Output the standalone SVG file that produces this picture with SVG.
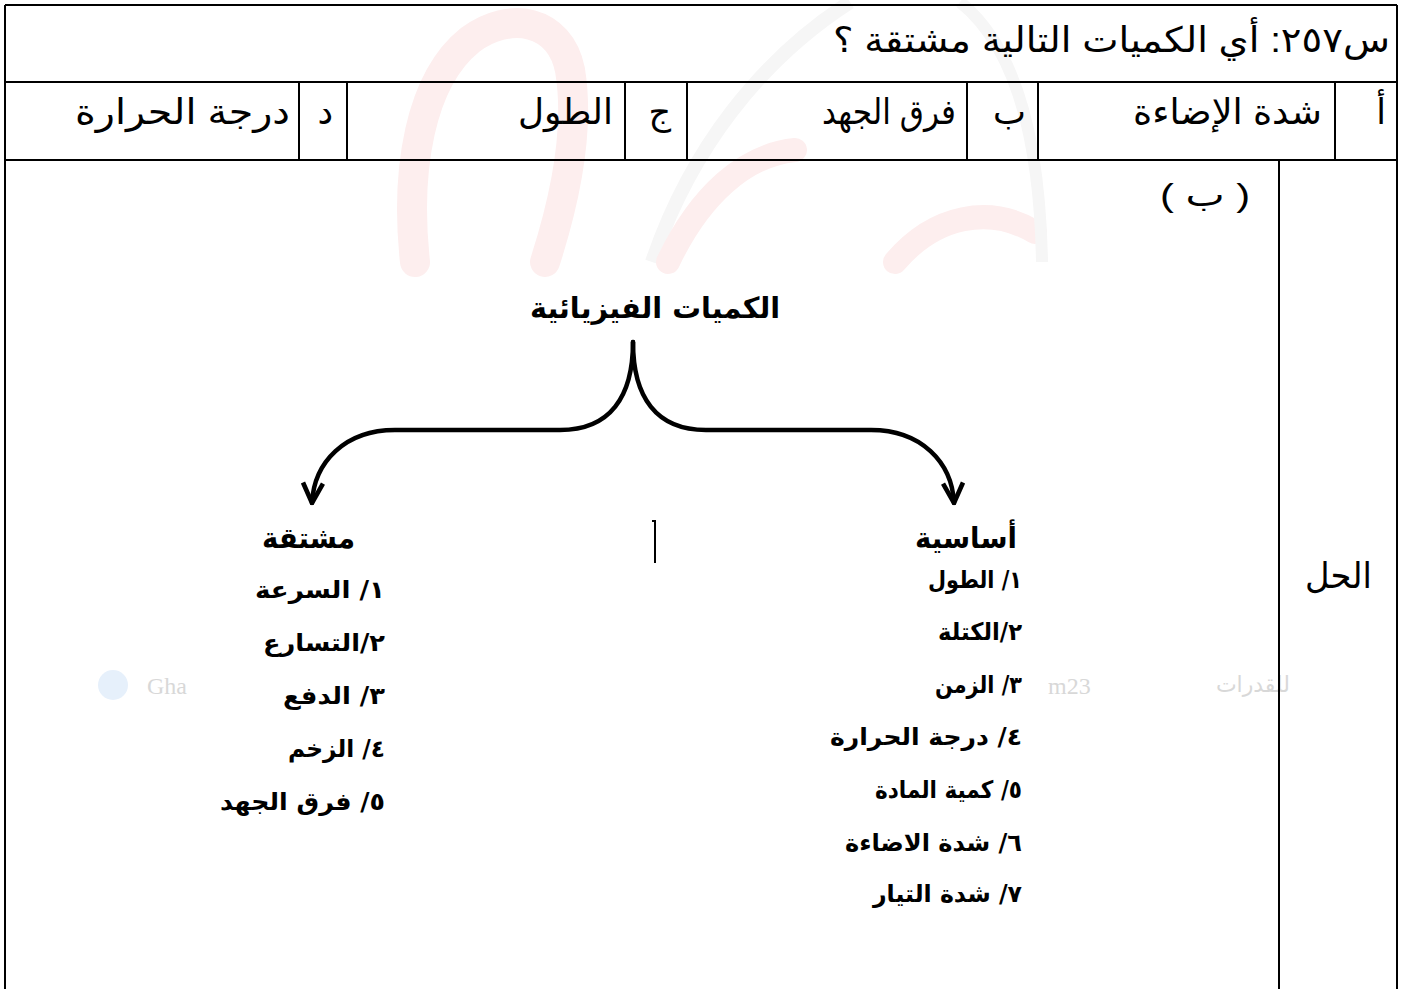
<svg xmlns="http://www.w3.org/2000/svg" width="1408" height="989" viewBox="0 0 1408 989">
<defs>
<style>
.grid{stroke:#000;stroke-width:2;fill:none}
.t{font-family:"Liberation Sans","DejaVu Sans",sans-serif;fill:#000;direction:rtl}
.q{font-size:35px}
.o{font-size:35px}
.b{font-family:"DejaVu Sans",sans-serif;font-weight:bold;fill:#000;direction:rtl}
.h{font-size:29px}
.l{font-size:24px}
.conn{stroke:#000;stroke-width:4.5;fill:none;stroke-linecap:round}
.wm{font-family:"Liberation Serif","DejaVu Serif",serif;fill:#d8d8d8}
.pk{fill:none;stroke:#fdeeee;stroke-linecap:round}
.gy{fill:none;stroke:#f6f6f6}
</style>
<marker id="chev" viewBox="0 0 12 12" refX="11" refY="6" markerWidth="24" markerHeight="24" markerUnits="userSpaceOnUse" orient="auto">
<path d="M1,1 L11,6 L1,11" fill="none" stroke="#000" stroke-width="2.3"/>
</marker>
</defs>
<rect width="1408" height="989" fill="#fff"/>
<g id="watermark">
<path class="pk" stroke-width="30" d="M415,262 C405,170 420,80 470,40 C510,10 560,20 570,70 C580,130 565,200 545,262"/>
<path class="gy" stroke-width="14" d="M850,2 C760,60 690,150 652,262"/>
<path class="pk" stroke-width="24" d="M668,262 C700,195 745,155 795,150"/>
<path class="pk" stroke-width="24" d="M895,262 C935,215 990,205 1035,232"/>
<path class="gy" stroke-width="12" d="M960,2 C1020,50 1040,150 1042,262"/>
</g>
<g id="watermark-text">
<circle cx="113" cy="685" r="15" fill="#e6f0fb"/>
<text class="wm" x="147" y="694" font-size="24">Gha</text>
<text class="wm" x="1048" y="694" font-size="24">m23</text>
<text x="1290" y="692" font-size="22" fill="#d8d8d8" style="font-family:'DejaVu Sans',sans-serif;direction:rtl">للقدرات</text>
</g>
<g id="table">
<line class="grid" x1="5" y1="5" x2="1397" y2="5"/>
<line class="grid" x1="5" y1="82" x2="1397" y2="82"/>
<line class="grid" x1="5" y1="160" x2="1397" y2="160"/>
<line class="grid" x1="5" y1="5" x2="5" y2="989"/>
<line class="grid" x1="1397" y1="5" x2="1397" y2="989"/>
<line class="grid" x1="299" y1="82" x2="299" y2="160"/>
<line class="grid" x1="347" y1="82" x2="347" y2="160"/>
<line class="grid" x1="625" y1="82" x2="625" y2="160"/>
<line class="grid" x1="687" y1="82" x2="687" y2="160"/>
<line class="grid" x1="967" y1="82" x2="967" y2="160"/>
<line class="grid" x1="1038" y1="82" x2="1038" y2="160"/>
<line class="grid" x1="1335" y1="82" x2="1335" y2="160"/>
<line class="grid" x1="1279" y1="160" x2="1279" y2="989"/>
</g>
<g id="question">
<text class="t q" x="1390" y="52" textLength="557" lengthAdjust="spacingAndGlyphs">س٢٥٧: أي الكميات التالية مشتقة ؟</text>
</g>
<g id="options">
<text class="t o" x="1386" y="124">أ</text>
<text class="t o" x="1322" y="124" textLength="189" lengthAdjust="spacingAndGlyphs">شدة الإضاءة</text>
<text class="t o" x="1026" y="124">ب</text>
<text class="t o" x="956" y="124" textLength="134" lengthAdjust="spacingAndGlyphs">فرق الجهد</text>
<text class="t o" x="671" y="124">ج</text>
<text class="t o" x="613" y="124" textLength="95" lengthAdjust="spacingAndGlyphs">الطول</text>
<text class="t o" x="333" y="124">د</text>
<text class="t o" x="290" y="124" textLength="215" lengthAdjust="spacingAndGlyphs">درجة الحرارة</text>
</g>
<g id="answer">
<text class="t" x="1250" y="206" font-size="32" textLength="90" lengthAdjust="spacingAndGlyphs">( ب )</text>
<text class="t" x="1372" y="588" font-size="36" textLength="67" lengthAdjust="spacingAndGlyphs">الحل</text>
</g>
<g id="connectors">
<path class="conn" d="M633,342 C633,397 610,430 560,430 L395,430 C345,430 314,462 312,503" marker-end="url(#chev)"/>
<path class="conn" d="M633,342 C633,397 656,430 706,430 L871,430 C921,430 952,462 954,503" marker-end="url(#chev)"/>
<path d="M652,521 L655,521 L655,563" stroke="#000" stroke-width="2" fill="none"/>
</g>
<g id="node-root">
<text class="b h" x="780" y="318" textLength="250" lengthAdjust="spacingAndGlyphs">الكميات الفيزيائية</text>
</g>
<g id="node-derived">
<text class="b h" x="355" y="548" textLength="93" lengthAdjust="spacingAndGlyphs">مشتقة</text>
<text class="b l" x="385" y="598" textLength="130" lengthAdjust="spacingAndGlyphs">١/ السرعة</text>
<text class="b l" x="385" y="651" textLength="122" lengthAdjust="spacingAndGlyphs">٢/التسارع</text>
<text class="b l" x="385" y="704" textLength="102" lengthAdjust="spacingAndGlyphs">٣/ الدفع</text>
<text class="b l" x="385" y="757" textLength="97" lengthAdjust="spacingAndGlyphs">٤/ الزخم</text>
<text class="b l" x="385" y="810" textLength="165" lengthAdjust="spacingAndGlyphs">٥/ فرق الجهد</text>
</g>
<g id="node-basic">
<text class="b h" x="1017" y="548" textLength="102" lengthAdjust="spacingAndGlyphs">أساسية</text>
<text class="b l" x="1022" y="588" textLength="94" lengthAdjust="spacingAndGlyphs">١/ الطول</text>
<text class="b l" x="1022" y="640" textLength="84" lengthAdjust="spacingAndGlyphs">٢/الكتلة</text>
<text class="b l" x="1022" y="693" textLength="87" lengthAdjust="spacingAndGlyphs">٣/ الزمن</text>
<text class="b l" x="1022" y="745" textLength="192" lengthAdjust="spacingAndGlyphs">٤/ درجة الحرارة</text>
<text class="b l" x="1022" y="798" textLength="147" lengthAdjust="spacingAndGlyphs">٥/ كمية المادة</text>
<text class="b l" x="1022" y="851" textLength="177" lengthAdjust="spacingAndGlyphs">٦/ شدة الاضاءة</text>
<text class="b l" x="1022" y="902" textLength="149" lengthAdjust="spacingAndGlyphs">٧/ شدة التيار</text>
</g>
</svg>
